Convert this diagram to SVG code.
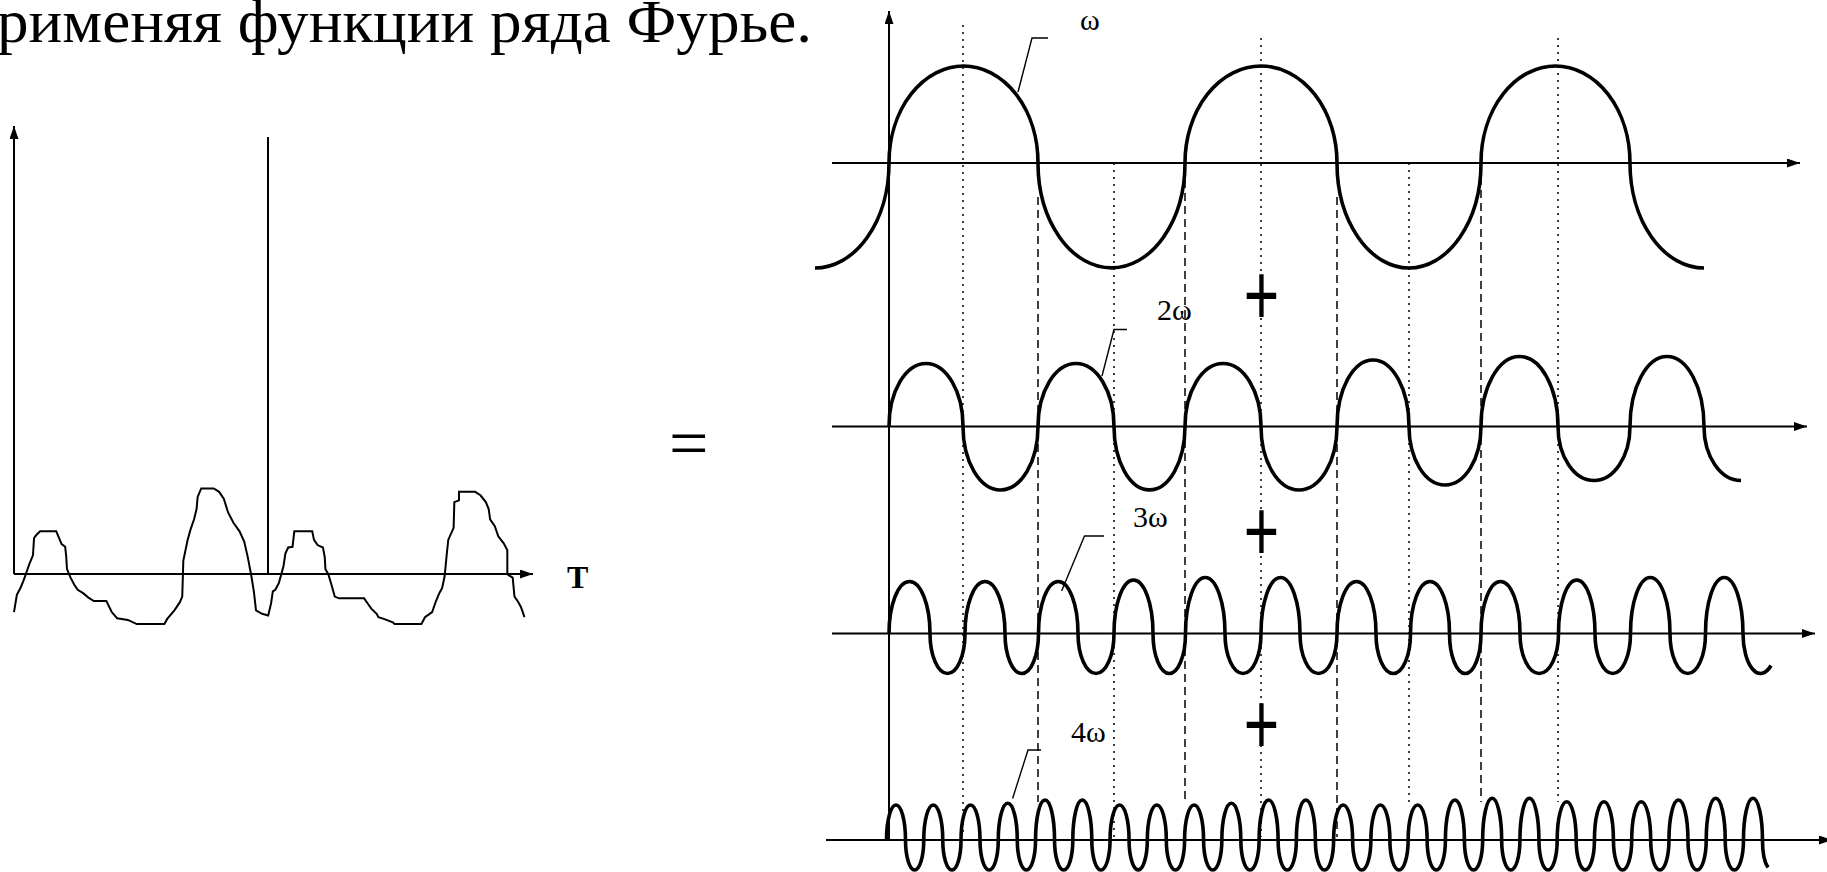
<svg xmlns="http://www.w3.org/2000/svg" width="1827" height="872" viewBox="0 0 1827 872">
<style>
.ax{stroke:#000;stroke-width:2;fill:none}
.wave{stroke:#000;stroke-width:3.6;fill:none;stroke-linejoin:round}
.thin{stroke:#000;stroke-width:1.4;fill:none}
.dot{stroke:#000;stroke-width:1.5;fill:none;stroke-dasharray:2 5}
.dash{stroke:#000;stroke-width:1.5;fill:none;stroke-dasharray:8 5}
.lbl{font-family:"Liberation Serif","Times New Roman",serif;font-size:30px;fill:#000}
.plus{font-family:"Liberation Sans",Arial,sans-serif;font-size:88px;fill:#000;text-anchor:middle}
</style>
<defs>
<marker id="arr" markerUnits="userSpaceOnUse" markerWidth="13" markerHeight="9" viewBox="0 0 13 9" refX="13" refY="4.5" orient="auto">
<path d="M0,0 L13,4.5 L0,9 z" fill="#000"/>
</marker>
</defs>
<rect width="1827" height="872" fill="#fff"/>
<g id="title">
<text x="-3" y="42" font-family="'Liberation Serif','Times New Roman',serif" font-size="62" textLength="815" lengthAdjust="spacingAndGlyphs" fill="#000">рименяя функции ряда Фурье.</text>
</g>
<g id="left-graph">
<line class="ax" x1="14" y1="574" x2="14" y2="126" marker-end="url(#arr)"/>
<line class="ax" x1="14" y1="574" x2="533" y2="574" marker-end="url(#arr)"/>
<line class="ax" x1="268" y1="137" x2="268" y2="574"/>
<polyline transform="translate(-1.04,110.54) scale(0.358,0.3435)" vector-effect="non-scaling-stroke" fill="none" stroke="#000" stroke-width="2" points="42,1460 50,1410 60,1390 68,1370 75,1350 85,1320 95,1295 98,1245 105,1235 115,1225 160,1225 168,1245 175,1262 185,1270 188,1300 190,1335 200,1360 210,1380 220,1395 235,1405 250,1418 265,1428 300,1428 308,1445 315,1460 330,1478 360,1483 385,1495 462,1495 470,1480 490,1455 505,1432 512,1415 515,1310 520,1285 527,1250 535,1220 545,1190 552,1160 555,1125 565,1100 600,1100 615,1110 628,1130 640,1170 655,1200 672,1225 685,1255 695,1300 705,1355 712,1400 718,1455 735,1465 752,1470 760,1435 765,1400 772,1395 782,1375 790,1345 795,1325 800,1290 808,1272 820,1270 825,1225 875,1225 880,1250 890,1265 905,1272 910,1300 912,1335 920,1350 930,1385 938,1415 950,1420 1020,1420 1030,1435 1040,1450 1055,1465 1060,1475 1075,1480 1100,1490 1105,1495 1180,1495 1190,1475 1210,1460 1220,1430 1230,1405 1238,1390 1245,1355 1250,1300 1255,1250 1270,1215 1272,1140 1285,1135 1285,1110 1330,1110 1345,1120 1360,1140 1368,1160 1372,1190 1385,1210 1395,1240 1410,1260 1420,1280 1420,1350 1435,1360 1440,1415 1450,1430 1458,1445 1468,1475"/>
<text x="567" y="588" font-family="'Liberation Serif','Times New Roman',serif" font-size="32" font-weight="bold" fill="#000">T</text>
</g>
<g id="equals">
<text x="669" y="467" font-family="'Liberation Serif','Times New Roman',serif" font-size="70" fill="#000">=</text>
</g>
<g id="guides">
<line class="dot" x1="963" y1="25" x2="963" y2="834"/>
<line class="dash" x1="1038" y1="197" x2="1038" y2="802"/>
<line class="dot" x1="1114" y1="163" x2="1114" y2="837"/>
<line class="dash" x1="1185" y1="167" x2="1185" y2="802"/>
<line class="dot" x1="1261" y1="38" x2="1261" y2="837"/>
<line class="dash" x1="1337" y1="197" x2="1337" y2="837"/>
<line class="dot" x1="1409" y1="163" x2="1409" y2="802"/>
<line class="dash" x1="1481" y1="177" x2="1481" y2="802"/>
<line class="dot" x1="1558" y1="38" x2="1558" y2="802"/>
</g>
<g id="right-axes">
<line class="ax" x1="889" y1="840" x2="889" y2="11" marker-end="url(#arr)"/>
<line class="ax" x1="832" y1="163" x2="1800" y2="163" marker-end="url(#arr)"/>
<line class="ax" x1="832" y1="426.5" x2="1807" y2="426.5" marker-end="url(#arr)"/>
<line class="ax" x1="832" y1="633.5" x2="1815" y2="633.5" marker-end="url(#arr)"/>
<line class="ax" x1="826" y1="840" x2="1832" y2="840" marker-end="url(#arr)"/>
</g>
<g id="wave-w">
<path class="wave" d="M815 268 A74 105 0 0 0 889 163 A74.5 97 0 0 1 1038 163 A73.5 105 0 0 0 1185 163 A76 97 0 0 1 1337 163 A72 105 0 0 0 1481 163 A74.5 97 0 0 1 1630 163 A74 105 0 0 0 1704 268"/>
</g>
<g id="wave-2w">
<path class="wave" d="M889 426.5 A37 63 0 0 1 963 426.5 A37.5 63.5 0 0 0 1038 426.5 A38 63 0 0 1 1114 426.5 A35.5 63.5 0 0 0 1185 426.5 A38 63 0 0 1 1261 426.5 A38 63.5 0 0 0 1337 426.5 A36 66.5 0 0 1 1409 426.5 A36 58.5 0 0 0 1481 426.5 A38.5 70 0 0 1 1558 426.5 A36 54 0 0 0 1630 426.5 A37 70 0 0 1 1704 426.5 A37 54 0 0 0 1741 480.5"/>
</g>
<g id="wave-3w">
<path class="wave" d="M889 633.5 A20.5 52 0 0 1 930 633.5 A17.5 40 0 0 0 965 633.5 A20 52 0 0 1 1005 633.5 A16.75 40 0 0 0 1038.5 633.5 A19.75 52 0 0 1 1078 633.5 A18 40 0 0 0 1114 633.5 A19.5 53.5 0 0 1 1153 633.5 A16.25 40 0 0 0 1185.5 633.5 A19.75 56 0 0 1 1225 633.5 A18 40 0 0 0 1261 633.5 A19.5 56 0 0 1 1300 633.5 A18.5 40 0 0 0 1337 633.5 A19.5 52 0 0 1 1376 633.5 A17.25 40 0 0 0 1410.5 633.5 A19.5 52 0 0 1 1449.5 633.5 A15.75 40 0 0 0 1481 633.5 A19.5 52 0 0 1 1520 633.5 A19.25 40 0 0 0 1558.5 633.5 A18.25 53.5 0 0 1 1595 633.5 A17.75 40 0 0 0 1630.5 633.5 A19.75 56 0 0 1 1670 633.5 A17.75 40 0 0 0 1705.5 633.5 A18.75 56 0 0 1 1743 633.5 A17.5 40 0 0 0 1771 665.5"/>
</g>
<g id="wave-4w">
<path class="wave" d="M886.5 840 A9.5 35 0 0 1 905.5 840 A9.13 30 0 0 0 923.76 840 A9.5 35 0 0 1 942.76 840 A9.13 30 0 0 0 961.02 840 A9.5 35 0 0 1 980.02 840 A9.13 30 0 0 0 998.28 840 A9.5 36.7 0 0 1 1017.28 840 A9.13 30 0 0 0 1035.54 840 A9.5 40 0 0 1 1054.54 840 A9.13 30 0 0 0 1072.8 840 A9.5 40 0 0 1 1091.8 840 A9.13 30 0 0 0 1110.06 840 A9.5 35 0 0 1 1129.06 840 A9.13 30 0 0 0 1147.32 840 A9.5 35 0 0 1 1166.32 840 A9.13 30 0 0 0 1184.58 840 A9.5 35 0 0 1 1203.58 840 A9.13 30 0 0 0 1221.84 840 A9.5 36.7 0 0 1 1240.84 840 A9.13 30 0 0 0 1259.1 840 A9.5 40 0 0 1 1278.1 840 A9.13 30 0 0 0 1296.36 840 A9.5 40 0 0 1 1315.36 840 A9.13 30 0 0 0 1333.62 840 A9.5 35 0 0 1 1352.62 840 A9.13 30 0 0 0 1370.88 840 A9.5 35 0 0 1 1389.88 840 A9.13 30 0 0 0 1408.14 840 A9.5 35 0 0 1 1427.14 840 A9.13 30 0 0 0 1445.4 840 A9.5 40 0 0 1 1464.4 840 A9.13 30 0 0 0 1482.66 840 A9.5 41.7 0 0 1 1501.66 840 A9.13 30 0 0 0 1519.92 840 A9.5 41.7 0 0 1 1538.92 840 A9.13 30 0 0 0 1557.18 840 A9.5 38.3 0 0 1 1576.18 840 A9.13 30 0 0 0 1594.44 840 A9.5 38.3 0 0 1 1613.44 840 A9.13 30 0 0 0 1631.7 840 A9.5 38.3 0 0 1 1650.7 840 A9.13 30 0 0 0 1668.96 840 A9.5 40 0 0 1 1687.96 840 A9.13 30 0 0 0 1706.22 840 A9.5 41.7 0 0 1 1725.22 840 A9.13 30 0 0 0 1743.48 840 A9.5 41.7 0 0 1 1762.48 840 A9.13 30 0 0 0 1768 867.5"/>
</g>
<g id="connectors">
<polyline class="thin" points="1048,38 1032,38 1018,92"/>
<polyline class="thin" points="1127,329.5 1114,329.5 1102,376"/>
<polyline class="thin" points="1104,536 1084.5,536 1061.6,591"/>
<polyline class="thin" points="1041,750 1028,750 1012.6,798.5"/>
</g>
<g id="labels">
<text class="lbl" x="1080" y="30">ω</text>
<text class="lbl" x="1157" y="320">2ω</text>
<text class="lbl" x="1133" y="527">3ω</text>
<text class="lbl" x="1071" y="742">4ω</text>
</g>
<g id="plus-signs">
<text class="plus" transform="scale(0.69,1)" x="1828.3" y="325">+</text>
<text class="plus" transform="scale(0.69,1)" x="1828.3" y="561">+</text>
<text class="plus" transform="scale(0.69,1)" x="1828.3" y="754">+</text>
</g>
</svg>
